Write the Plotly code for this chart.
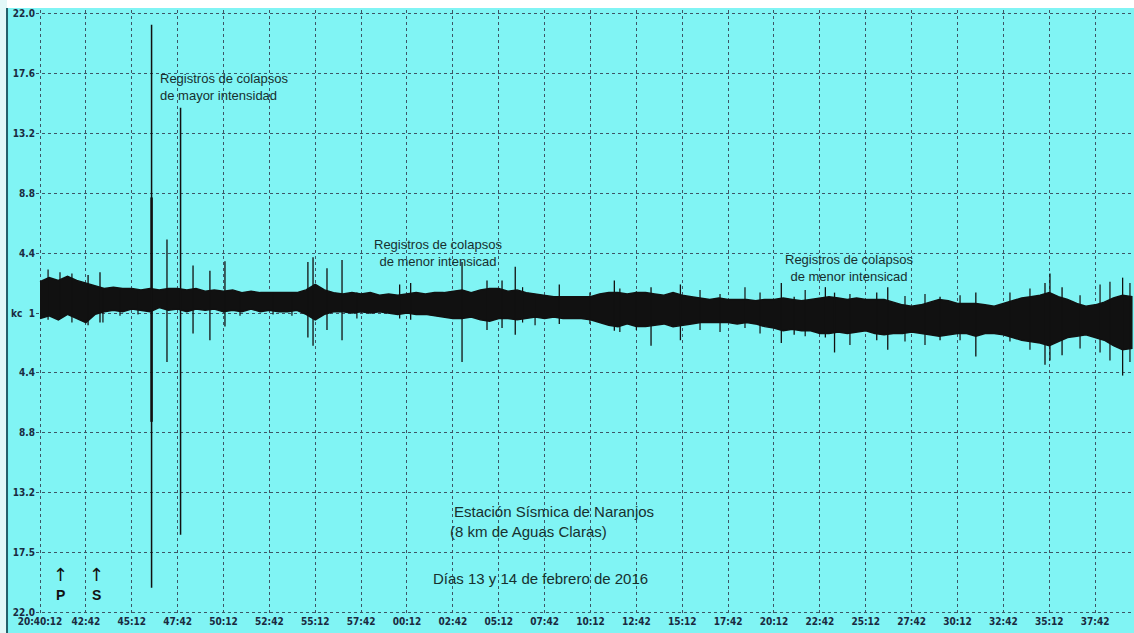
import plotly.graph_objects as go

# ---------------- data ----------------
# time axis: minutes after 20:40:12, envelope sampled every 0.5 min
env_minutes = [i * 0.5 for i in range(120)]

env_upper = [2.3, 2.6, 2.4, 2.7, 2.4, 2.2, 2.0, 1.8, 1.9, 1.8,
             1.8, 1.7, 1.8, 1.7, 1.8, 1.8, 1.7, 1.8, 1.6, 1.7,
             1.6, 1.7, 1.5, 1.6, 1.5, 1.5, 1.5, 1.5, 1.5, 1.7,
             2.1, 1.7, 1.5, 1.4, 1.5, 1.4, 1.5, 1.3, 1.4, 1.3,
             1.4, 1.5, 1.4, 1.5, 1.5, 1.6, 1.7, 1.5, 1.7, 1.8,
             1.8, 1.6, 1.7, 1.5, 1.4, 1.3, 1.2, 1.2, 1.2, 1.2,
             1.2, 1.4, 1.5, 1.5, 1.4, 1.5, 1.5, 1.4, 1.3, 1.5,
             1.3, 1.2, 1.1, 1.0, 1.1, 1.0, 1.0, 1.0, 0.9, 1.0,
             1.0, 1.1, 1.0, 0.9, 1.0, 1.1, 1.2, 1.1, 1.0, 1.1,
             1.0, 1.0, 1.0, 0.8, 0.6, 0.5, 0.6, 0.8, 1.0, 0.9,
             0.7, 0.7, 0.7, 0.6, 0.5, 0.7, 0.9, 1.1, 1.2, 1.3,
             1.5, 1.2, 1.0, 0.7, 0.5, 0.6, 0.8, 1.1, 1.3, 1.2]

env_lower = [-0.4, -0.2, -0.5, -0.1, -0.4, -0.7, -0.1, 0.1, 0.2, 0.1,
             0.3, 0.2, 0.1, 0.4, 0.2, 0.3, 0.1, 0.3, 0.2, 0.3,
             0.1, 0.2, 0.1, 0.3, 0.1, 0.2, 0.1, 0.1, 0.2, -0.1,
             -0.5, -0.1, 0.1, 0.1, 0.0, 0.1, 0.0, 0.1, 0.0, -0.1,
             0.0, -0.1, -0.1, -0.2, -0.3, -0.4, -0.4, -0.3, -0.5, -0.6,
             -0.4, -0.4, -0.5, -0.4, -0.3, -0.4, -0.3, -0.4, -0.4, -0.4,
             -0.5, -0.7, -0.9, -1.0, -0.8, -1.0, -1.0, -0.9, -0.8, -1.0,
             -0.9, -0.8, -0.7, -0.7, -0.7, -0.7, -0.8, -0.7, -0.8, -1.0,
             -1.1, -1.3, -1.2, -1.3, -1.3, -1.5, -1.5, -1.4, -1.5, -1.4,
             -1.3, -1.5, -1.6, -1.5, -1.5, -1.4, -1.5, -1.6, -1.7, -1.6,
             -1.5, -1.5, -1.7, -1.5, -1.5, -1.6, -1.8, -2.0, -2.1, -2.2,
             -2.4, -2.1, -1.8, -1.7, -1.6, -1.8, -2.0, -2.4, -2.7, -2.6]

# smaller collapse events (spikes)
spike_min = [2.62, 3.27, 6.92, 8.34, 9.26, 10.08, 14.6, 14.88, 15.64, 16.46,
             19.6, 20.2, 23.0, 24.36, 25.18, 25.9, 28.3, 31.3, 33.3, 34.9,
             40.4, 41.1, 42.8, 43.3, 45.6, 46.2, 49.05, 51.0, 54.77, 55.04,
             55.7, 59.0]
spike_top = [2.8, 3.0, 5.4, 3.5, 3.1, 3.8, 3.75, 4.1, 3.3, 3.9,
             2.1, 2.2, 3.75, 2.4, 2.4, 3.4, 2.1, 2.4, 1.9, 2.1,
             2.2, 1.2, 1.9, 1.5, 1.5, 1.9, 1.2, 1.5, 2.2, 2.9,
             1.9, 2.6]
spike_bot = [-0.9, -0.7, -3.6, -1.5, -2.0, -1.0, -1.8, -2.4, -1.25, -2.0,
             -0.4, -0.5, -3.6, -1.25, -1.1, -1.6, -0.8, -1.3, -2.4, -2.0,
             -2.2, -1.6, -1.8, -2.9, -2.0, -2.7, -2.0, -3.2, -3.8, -3.5,
             -3.1, -4.6]

# small noise peaks poking out of the background band
peak_min = [0.44, 1.09, 1.74, 3.43, 4.36, 5.34, 10.9, 12.7, 13.73, 17.27,
            26.3, 26.98, 29.97, 31.6, 32.5, 35.97, 37.06, 38.42, 39.24, 41.7,
            44.14, 47.14, 48.23, 50.14, 52.86, 53.95, 56.68, 57.77, 58.31, 59.4]
peak_top = [3.2, 3.0, 2.9, 1.8, 1.8, 1.7, 1.5, 1.5, 1.5, 1.5,
            1.9, 1.3, 1.5, 1.8, 1.6, 1.7, 1.4, 1.9, 1.5, 1.7,
            1.4, 1.25, 1.4, 1.3, 1.5, 1.8, 1.3, 2.1, 2.3, 2.2]
peak_bot = [-0.5, -0.4, -0.7, -0.7, -0.2, -0.1, -0.2, -0.1, -0.2, -0.4,
            -0.7, -0.9, -0.8, -1.4, -1.25, -1.25, -1.4, -1.1, -1.5, -1.7,
            -2.35, -2.1, -2.35, -2.0, -2.1, -2.7, -2.6, -2.9, -3.5, -3.6]

# major collapse events
major_min = [6.08, 7.66]
major_top = [21.2, 15.1]
major_bot = [-20.2, -16.3]
major_core_top = [8.5]
major_core_bot = [-8.0]

# axes
x_tickvals = [i * 2.5 for i in range(24)]
x_ticktext = ["20:40:12", "42:42", "45:12", "47:42", "50:12", "52:42", "55:12", "57:42",
              "00:12", "02:42", "05:12", "07:42", "10:12", "12:42", "15:12", "17:42",
              "20:12", "22:42", "25:12", "27:42", "30:12", "32:42", "35:12", "37:42"]
y_tickvals = [-22.0, -17.6, -13.2, -8.8, -4.4, 0.0, 4.4, 8.8, 13.2, 17.6, 22.0]
y_ticktext = ["22.0", "17.5", "13.2", "8.8", "4.4", "1",
              "4.4", "8.8", "13.2", "17.6", "22.0"]

phase_labels = ["P", "S"]
phase_minutes = [1.09, 3.1]

# ---------------- styling ----------------
BG = "#80F4F4"
INK = "#111111"
TXT = "#17302f"
GRID = "#3d5566"
TICKFONT = "DejaVu Sans Condensed, DejaVu Sans, sans-serif"
SANS = "Liberation Sans, Arial, sans-serif"


def segs(xs, tops, bots):
    X, Y = [], []
    for x, t, b in zip(xs, tops, bots):
        X += [x, x, None]
        Y += [t, b, None]
    return X, Y


fig = go.Figure()

# background noise band
fig.add_trace(go.Scatter(
    x=env_minutes + env_minutes[::-1],
    y=env_upper + env_lower[::-1],
    fill="toself", fillcolor=INK, mode="lines",
    line=dict(color=INK, width=1.5), hoverinfo="skip", showlegend=False))

px_, py_ = segs(peak_min, peak_top, peak_bot)
fig.add_trace(go.Scatter(x=px_, y=py_, mode="lines", line=dict(color=INK, width=1.2),
                         hoverinfo="skip", showlegend=False))

sx, sy = segs(spike_min, spike_top, spike_bot)
fig.add_trace(go.Scatter(x=sx, y=sy, mode="lines", line=dict(color=INK, width=1.3),
                         hoverinfo="skip", showlegend=False))

mx, my = segs(major_min, major_top, major_bot)
fig.add_trace(go.Scatter(x=mx, y=my, mode="lines", line=dict(color=INK, width=1.5),
                         hoverinfo="skip", showlegend=False))

cx, cy = segs(major_min[:1], major_core_top, major_core_bot)
fig.add_trace(go.Scatter(x=cx, y=cy, mode="lines", line=dict(color=INK, width=2.5),
                         hoverinfo="skip", showlegend=False))

annotations = [
    dict(x=6.45, y=16.65, xanchor="left", yanchor="middle",
         text="Registros de colapsos<br>de mayor intensidad",
         font=dict(family=SANS, size=13, color=TXT), align="left", showarrow=False),
    dict(x=21.7, y=4.4, xanchor="center", yanchor="middle",
         text="Registros de colapsos<br>de menor intensicad",
         font=dict(family=SANS, size=13, color=TXT), align="center", showarrow=False),
    dict(x=44.1, y=3.3, xanchor="center", yanchor="middle",
         text="Registros de colapsos<br>de menor intensicad",
         font=dict(family=SANS, size=13, color=TXT), align="center", showarrow=False),
    dict(x=28.0, y=-14.6, xanchor="center", yanchor="middle",
         text="Estación Sísmica de Naranjos",
         font=dict(family=SANS, size=15, color=TXT), showarrow=False),
    dict(x=26.6, y=-16.1, xanchor="center", yanchor="middle",
         text="(8 km de Aguas Claras)",
         font=dict(family=SANS, size=15, color=TXT), showarrow=False),
    dict(x=27.3, y=-19.5, xanchor="center", yanchor="middle",
         text="Días 13 y 14 de febrero de 2016",
         font=dict(family=SANS, size=15, color=TXT), showarrow=False),
    dict(xref="paper", x=(9 - 36) / 1098, y=0, xanchor="left", yanchor="middle",
         text="kc", showarrow=False,
         font=dict(family=TICKFONT, size=10, color="#1a2a40", weight="bold")),
]
for lab, m in zip(phase_labels, phase_minutes):
    annotations.append(dict(x=m, y=-19.2, text="↑", showarrow=False,
                            font=dict(family="DejaVu Sans", size=18, color=INK)))
    annotations.append(dict(x=m, y=-20.7, text="<b>" + lab + "</b>", showarrow=False,
                            font=dict(family=SANS, size=14, color=INK)))

fig.update_layout(
    width=1134, height=633, autosize=False,
    margin=dict(l=36, r=0, t=10, b=19, autoexpand=False),
    paper_bgcolor=BG, plot_bgcolor=BG,
    showlegend=False,
    annotations=annotations,
    shapes=[
        dict(type="rect", xref="paper", yref="paper", x0=-0.1, x1=1.01, y0=1.0033, y1=1.05,
             fillcolor="white", line=dict(width=0), layer="above"),
        dict(type="rect", xref="paper", yref="paper", x0=-0.1, x1=-0.0264, y0=-0.1, y1=1.05,
             fillcolor="#e2f8f8", line=dict(width=0), layer="above"),
        dict(type="line", xref="paper", yref="paper", x0=-0.0264, x1=-0.0264, y0=-0.1, y1=1.0033,
             line=dict(color="#24606a", width=2), layer="above"),
    ],
    xaxis=dict(range=[-0.218, 59.62], tickmode="array", tickvals=x_tickvals, ticktext=x_ticktext,
               showgrid=True, gridcolor=GRID, griddash="dot", gridwidth=1,
               zeroline=False, showline=False, ticks="", automargin=False,
               tickfont=dict(family=TICKFONT, size=10, color="#1a2a40", weight="bold"),
               fixedrange=True),
    yaxis=dict(range=[-22.13, 22.28], tickmode="array", tickvals=y_tickvals, ticktext=y_ticktext,
               showgrid=True, gridcolor=GRID, griddash="dot", gridwidth=1,
               zeroline=False, showline=False, ticks="", automargin=False,
               tickfont=dict(family=TICKFONT, size=10, color="#1a2a40", weight="bold"),
               fixedrange=True),
)

fig.write_html("out.html", config={"displayModeBar": False},
               post_script="document.body.style.margin='0px';")
